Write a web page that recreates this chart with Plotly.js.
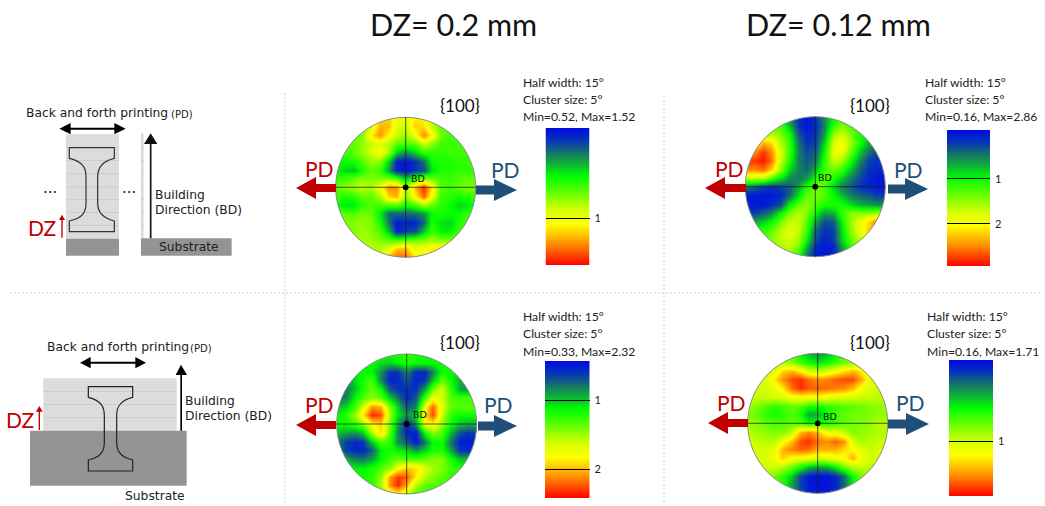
<!DOCTYPE html>
<html><head><meta charset="utf-8">
<script src="https://cdn.plot.ly/plotly-3.0.1.min.js"></script>
<style>html,body{margin:0;padding:0;background:#fff}#c{width:1045px;height:506px}</style>
</head><body><div id="c"></div>
<script>
// Pole figure intensity, as position on the colour bar (0 = top/blue, 100 = bottom/red)
const gridPos = [1,.875,.75,.625,.5,.375,.25,.125,0,-.125,-.25,-.375,-.5,-.625,-.75,-.875,-1];
const gridX = gridPos.slice().reverse();
const pole02top = [
[50,50,50,50,58,72,76,66,62,72,70,58,50,48,45,45,45],
[50,50,50,50,60,80,78,62,58,76,74,58,45,45,45,45,45],
[50,50,50,48,72,84,70,58,52,66,86,70,48,42,42,42,42],
[46,46,45,52,58,62,56,46,44,46,60,52,42,42,42,42,42],
[42,42,46,52,60,68,54,30,22,30,40,40,40,42,42,42,42],
[36,36,38,44,52,52,30,5,3,8,18,36,38,38,40,40,40],
[36,30,28,38,46,42,24,5,3,8,12,32,38,38,40,40,40],
[40,42,46,50,50,48,50,42,28,42,50,46,42,42,44,46,46],
[46,50,54,58,54,66,84,84,55,78,96,72,44,42,46,48,48],
[42,38,40,46,46,54,76,80,50,70,90,66,42,40,36,40,42],
[36,32,32,40,44,42,44,44,36,42,52,46,40,36,30,32,36],
[46,46,44,48,46,34,16,16,16,18,22,36,38,36,36,40,42],
[50,50,50,52,50,38,18,3,6,5,16,38,32,30,38,42,42],
[50,50,50,54,50,44,28,5,10,12,28,42,34,34,42,46,46],
[52,52,52,54,54,50,46,44,46,48,50,54,50,50,48,48,48],
[55,55,55,55,56,56,62,76,78,64,66,72,74,66,55,55,55],
[55,55,55,55,55,60,80,90,88,74,70,72,70,60,55,55,55]];
const pole012top = [
[40,40,40,40,30,20,8,3,8,22,34,38,38,38,36,36,36],
[50,50,50,46,44,28,8,3,6,20,40,50,44,38,36,36,36],
[52,52,54,56,50,38,14,6,8,24,52,60,50,38,30,30,30],
[62,62,80,74,56,42,18,8,10,30,60,70,54,38,26,22,20],
[84,84,94,84,62,42,20,12,14,36,64,66,48,30,18,12,12],
[94,94,98,88,60,38,20,14,18,40,58,54,38,22,10,8,8],
[84,84,88,76,52,30,20,16,26,42,48,42,28,16,8,6,6],
[60,60,58,46,34,22,18,22,36,46,38,30,20,12,6,3,3],
[20,15,10,8,10,14,24,38,48,44,30,20,14,8,5,3,3],
[4,3,3,3,6,16,32,46,48,44,36,28,20,16,14,10,10],
[4,3,3,6,12,35,46,52,44,38,38,38,32,26,24,22,22],
[10,10,14,20,34,48,56,50,36,24,26,40,50,50,50,52,54],
[24,24,30,36,48,58,58,46,24,12,14,34,52,64,74,86,86],
[38,38,40,46,56,62,58,42,16,8,10,30,50,64,76,80,80],
[42,42,44,50,58,62,54,36,12,5,10,28,46,56,60,62,62],
[44,44,44,48,54,56,48,26,6,3,5,22,38,46,48,48,48],
[44,44,44,46,48,48,38,18,4,3,5,18,32,42,42,42,42]];
const pole02bottom = [
[35,35,35,35,36,36,36,38,40,38,36,34,32,32,32,32,32],
[35,35,35,35,36,32,30,34,38,36,36,36,36,34,32,32,32],
[30,30,32,36,34,22,8,8,20,6,6,20,36,36,30,30,30],
[22,24,30,38,44,20,5,6,14,6,8,28,46,36,26,24,24],
[18,18,28,38,46,36,14,8,8,8,24,48,60,40,24,22,24],
[18,20,34,44,52,46,30,18,6,14,42,66,60,44,42,44,40],
[28,30,42,60,84,80,50,30,14,20,66,90,62,46,44,46,42],
[34,40,52,72,96,92,54,32,22,30,72,92,60,40,36,36,36],
[36,36,42,50,70,76,48,24,6,22,66,70,52,36,28,26,26],
[28,24,22,28,54,74,46,20,6,3,36,50,44,26,12,8,10],
[20,10,6,8,28,44,40,22,14,4,18,36,36,18,4,3,6],
[22,10,6,6,14,34,38,34,30,22,30,38,38,24,8,6,10],
[28,26,20,18,24,34,42,46,44,44,46,50,50,38,28,28,30],
[34,34,34,34,38,44,50,68,76,74,62,54,50,42,38,36,36],
[34,34,34,36,40,50,82,94,90,72,56,50,46,40,36,36,36],
[34,34,34,36,40,54,84,96,80,56,46,44,42,38,36,36,36],
[34,34,34,34,36,44,60,70,56,44,40,40,38,36,36,36,36]];
const pole012bottom = [
[52,52,52,52,50,44,34,26,22,26,34,44,48,52,52,52,52],
[54,54,54,54,54,50,42,36,32,36,42,48,50,54,56,56,56],
[58,58,58,62,76,80,72,62,58,62,68,74,80,72,60,58,58],
[60,60,60,72,84,92,95,88,84,86,90,92,92,80,62,60,60],
[60,60,60,64,72,88,95,90,90,88,86,84,78,66,60,58,58],
[58,58,58,60,62,66,68,66,68,64,62,62,60,58,58,56,56],
[54,50,44,40,42,46,44,38,36,40,42,44,46,48,50,52,52],
[50,46,40,38,40,44,38,24,26,36,42,46,48,48,50,52,52],
[54,50,46,44,44,46,44,36,40,38,42,46,48,50,52,56,56],
[56,54,52,50,50,58,80,85,78,66,64,58,50,52,54,56,56],
[60,58,56,56,66,78,92,95,88,84,90,84,62,54,56,58,58],
[62,60,60,64,80,86,90,88,80,80,80,74,70,62,58,60,60],
[62,60,60,66,76,68,66,64,62,62,66,68,80,66,60,60,60],
[60,60,58,60,54,46,36,26,22,24,34,46,54,58,56,56,56],
[58,56,52,48,40,28,10,3,2,2,6,16,36,48,52,54,54],
[56,54,50,46,38,24,10,3,2,2,5,16,34,46,50,52,52],
[56,54,50,46,40,28,12,5,3,4,8,20,36,46,50,52,52]];
const barLevels = [0,5,10,15,20,25,30,35,40,45,50,55,60,65,70,75,80,85,90,95,100];
const barTickLabels = [["1"],["1","2"],["1","2"],["1"]];
const barTickVals = [[66],[36,69],[28.5,79],[60]];
const poleNames = ["DZ 0.2 top","DZ 0.12 top","DZ 0.2 bottom","DZ 0.12 bottom"];
const poleGrids = [pole02top,pole012top,pole02bottom,pole012bottom];
const minMaxText = ["Min=0.52, Max=1.52","Min=0.16, Max=2.86","Min=0.33, Max=2.32","Min=0.16, Max=1.71"];

const W=1045,H=506,R=70,PAD=1.03;
const centers=[[405.7,187.3],[815.3,186.7],[406.7,424],[817.7,423.3]];
const bars=[[545.5,589.5,128,265],[947,990,130,266],[545,589.5,361,498],[949,993,360,496]];
const infoPos=[[523,83],[925,83],[523,316],[927,316]];
const braces=[[460,105],[870,105],[460,342],[870,342]];
const bdPos=[[418,179],[825,178],[420,414],[830,416]];
const arrows=[[296,336,188,476,517,190,319,168,505,169],[705,746,188,888,928,189,729,168,908,169],
              [296,336,425,478,517,426,319,404,498,404],[708,748,423,888,929,424,731,402,910,402]];
const RED='#c00000',BLUE='#1f4e79';
const colorscale=[[0,'rgb(0,10,225)'],[.08,'rgb(5,50,190)'],[.17,'rgb(20,110,110)'],[.25,'rgb(15,170,60)'],[.35,'rgb(0,255,0)'],[.6,'rgb(215,255,0)'],[.7,'rgb(255,255,0)'],[.87,'rgb(255,120,0)'],[1,'rgb(255,0,0)']];
const sans='Lato, Carlito, "Open Sans", sans-serif', dv='"DejaVu Sans", sans-serif';

const px=x=>x/W, py=y=>1-y/H;
function dpath(s,ox,oy,k){ // drawing path: numbers are x y pairs in drawing units
  let i=0;
  return s.replace(/-?\d+(\.\d+)?/g,m=>{const v=parseFloat(m);const r=(i++%2===0)?px(ox+v/k):py(oy+v/k);return r.toFixed(5);});
}
const shapes=[],annotations=[],traces=[],layout={};
function ann(x,y,text,size,color,font,anchor){annotations.push({xref:'paper',yref:'paper',x:px(x),y:py(y),text,showarrow:false,xanchor:anchor||'center',yanchor:'middle',font:{size,color:color||'#111',family:font||sans},borderpad:0,borderwidth:0});}
function pathShape(s,ox,oy,k,fill,line,lw,layer){shapes.push({type:'path',xref:'paper',yref:'paper',path:dpath(s,ox,oy,k),fillcolor:fill||'rgba(0,0,0,0)',line:{color:line||'rgba(0,0,0,0)',width:lw||0},layer:layer||'above'});}
function hline(x0,x1,y,c,w,dash){shapes.push({type:'line',xref:'paper',yref:'paper',x0:px(x0),x1:px(x1),y0:py(y),y1:py(y),line:{color:c,width:w,dash:dash||'solid'}});}
function vline(x,y0,y1,c,w,dash){shapes.push({type:'line',xref:'paper',yref:'paper',x0:px(x),x1:px(x),y0:py(y0),y1:py(y1),line:{color:c,width:w,dash:dash||'solid'}});}
function harrow(tail,tip,y,hl,hh,sh,c){const d=tip>tail?1:-1,b=tip-d*hl;
  pathShape(`M${tail} ${y-sh}L${b} ${y-sh}L${b} ${y-hh}L${tip} ${y}L${b} ${y+hh}L${b} ${y+sh}L${tail} ${y+sh}Z`,0,0,1,c);}

// pole figures and colour bars
poleGrids.forEach((z,i)=>{
  const a=i*2+1,b=i*2+2,[cx,cy]=centers[i],S=R*PAD;
  const xn='x'+a,yn='y'+a,xb='x'+b,yb='y'+b;
  traces.push({type:'heatmap',name:poleNames[i],x:gridX,y:gridPos,z,zmin:0,zmax:100,zsmooth:'best',colorscale,showscale:false,hoverinfo:'skip',xaxis:xn,yaxis:yn});
  layout['xaxis'+a]={domain:[px(cx-S),px(cx+S)],range:[-PAD,PAD],visible:false,anchor:yn,fixedrange:true};
  layout['yaxis'+a]={domain:[py(cy+S),py(cy-S)],range:[-PAD,PAD],visible:false,anchor:xn,fixedrange:true};
  const k=.5523*R,o=R*1.09,l=cx-o,r=cx+o,t=cy-o,d=cy+o;
  pathShape(`M${l} ${t}L${r} ${t}L${r} ${d}L${l} ${d}ZM${cx+R} ${cy}C${cx+R} ${cy+k} ${cx+k} ${cy+R} ${cx} ${cy+R}C${cx-k} ${cy+R} ${cx-R} ${cy+k} ${cx-R} ${cy}C${cx-R} ${cy-k} ${cx-k} ${cy-R} ${cx} ${cy-R}C${cx+k} ${cy-R} ${cx+R} ${cy-k} ${cx+R} ${cy}Z`,0,0,1,'#fff');
  shapes.push({type:'circle',xref:xn,yref:yn,x0:-1,x1:1,y0:-1,y1:1,line:{color:'#8a8a8a',width:1}});
  shapes.push({type:'line',xref:xn,yref:yn,x0:-1,x1:1,y0:0,y1:0,line:{color:'rgba(30,30,30,.75)',width:1}});
  shapes.push({type:'line',xref:xn,yref:yn,x0:0,x1:0,y0:-1,y1:1,line:{color:'rgba(30,30,30,.75)',width:1}});
  const dr=2.9/R;
  shapes.push({type:'circle',xref:xn,yref:yn,x0:-dr,x1:dr,y0:-dr,y1:dr,fillcolor:'#000',line:{width:0}});
  const [bx0,bx1,by0,by1]=bars[i];
  traces.push({type:'heatmap',x:[0],y:barLevels,z:barLevels.map(v=>[v]),zmin:0,zmax:100,zsmooth:'best',colorscale,showscale:false,hoverinfo:'skip',xaxis:xb,yaxis:yb});
  layout['xaxis'+b]={domain:[px(bx0),px(bx1)],range:[-.5,.5],visible:false,anchor:yb,fixedrange:true};
  layout['yaxis'+b]={domain:[py(by1),py(by0)],range:[100,0],anchor:xb,side:'right',showgrid:false,zeroline:false,showline:false,
    tickmode:'array',tickvals:barTickVals[i],ticktext:barTickLabels[i],ticks:'inside',ticklen:bx1-bx0,tickwidth:1,tickcolor:'#000',ticklabelstandoff:4,
    tickfont:{family:sans,size:11,color:'#222'},fixedrange:true};
  const [ix,iy]=infoPos[i],sp=i<2?16.5:17.5;
  ann(ix,iy,'Half width: 15°',12.2,'#222',sans,'left');
  ann(ix,iy+sp,'Cluster size: 5°',12.2,'#222',sans,'left');
  ann(ix,iy+2*sp,minMaxText[i],12.2,'#222',sans,'left');
  ann(braces[i][0],braces[i][1],'{100}',17,'#111');
  ann(bdPos[i][0],bdPos[i][1],'BD',9.5,'#111',dv);
  const A=arrows[i];
  harrow(A[1],A[0],A[2],20,11,4,RED);
  harrow(A[3],A[4],A[5],23,11,4.5,BLUE);
  ann(A[6],A[7],'PD',21,RED);
  ann(A[8],A[9],'PD',21,BLUE);
});

// titles
ann(453,24,'DZ= 0.2 mm',30.5,'#111');
ann(838,24,'DZ= 0.12 mm',30.5,'#111');

// panel dividers
vline(285,93,503,'#cfcfcf',1,'2px,2px');
vline(664,96,503,'#cfcfcf',1,'2px,2px');
hline(10,1040,293,'#cfcfcf',1,'2px,2px');

// schematic, top
const dog='M208 173L343 173L343 205C300 215 293 240 293 260L293 340C293 370 310 385 343 393L343 425L208 425L208 393C245 385 258 370 258 340L258 260C258 235 250 215 208 205Z';
const t=[0,90,3];
const tr=(s,f,l,w)=>pathShape(s,t[0],t[1],t[2],f,l,w);
tr('M198 133L357 133L357 446L198 446Z','#dcdcdc');
[172,211,250,290,328,367,406].forEach(y=>tr(`M198 ${y}L357 ${y}L357 ${y+1.5}L198 ${y+1.5}Z`,'#bdbdbd'));
tr('M198 446L357 446L357 497L198 497Z','#949494');
tr(dog,'rgba(0,0,0,0)','#333',1.2);
tr('M178 116L212 99L212 113L343 113L343 99L377 116L343 133L343 119L212 119L212 133Z','#000');
tr('M423 130L431 130L431 445L423 445Z','#dcdcdc');
[172,211,250,290,328,367,406].forEach(y=>tr(`M423 ${y}L431 ${y}L431 ${y+1.5}L423 ${y+1.5}Z`,'#bdbdbd'));
tr('M423 445L695 445L695 497L423 497Z','#949494');
tr('M449.5 445L449.5 162L432 162L452 130L472 162L454.5 162L454.5 445Z','#111');
tr('M184 443L184 390L177 390L186 374L195 390L188 390L188 443Z',RED);
ann(26,113,'Back and forth printing',12.3,'#222',dv,'left');
ann(171,114,'(PD)',10,'#222',dv,'left');
ann(155,195,'Building',12.3,'#222',dv,'left');
ann(155,210.5,'Direction (BD)',12.3,'#222',dv,'left');
ann(188.5,247,'Substrate',12.3,'#222',dv);
ann(50,188,'...',15,'#111',dv);
ann(129,188,'...',15,'#111',dv);
ann(42,227,'DZ',21,RED);

// schematic, bottom
const u=[0,330,3];
const br=(s,f,l,w)=>pathShape(s,u[0],u[1],u[2],f,l,w);
br('M130 145L530 145L530 302L130 302Z','#dcdcdc');
[183,223,262].forEach(y=>br(`M130 ${y}L530 ${y}L530 ${y+1.5}L130 ${y+1.5}Z`,'#bdbdbd'));
br('M90 302L560 302L560 467L90 467Z','#949494');
br('M265 170L398 170L398 202C355 212 350 237 350 257L350 337C350 367 365 382 398 390L398 423L265 423L265 390C300 382 313 367 313 337L313 257C313 232 305 212 265 202Z','rgba(0,0,0,0)','#222',1.2);
br('M240 98L272 81L272 95L406 95L406 81L438 98L406 115L406 101L272 101L272 115Z','#000');
br('M541 302L541 135L527 135L543 104L561 135L546 135L546 302Z','#000');
br('M116 300L116 245L108 245L118 228L128 245L120 245L120 300Z',RED);
ann(46.5,347,'Back and forth printing',12.3,'#222',dv,'left');
ann(189.5,348,'(PD)',10,'#222',dv,'left');
ann(184.5,401,'Building',12.3,'#222',dv,'left');
ann(184.5,416,'Direction (BD)',12.3,'#222',dv,'left');
ann(155,496,'Substrate',12.3,'#222',dv);
ann(20,419,'DZ',21,RED);

Object.assign(layout,{width:W,height:H,margin:{l:0,r:0,t:0,b:0,pad:0},paper_bgcolor:'#fff',plot_bgcolor:'#fff',showlegend:false,shapes,annotations});
Plotly.newPlot('c',traces,layout,{displayModeBar:false,staticPlot:true});
</script></body></html>
